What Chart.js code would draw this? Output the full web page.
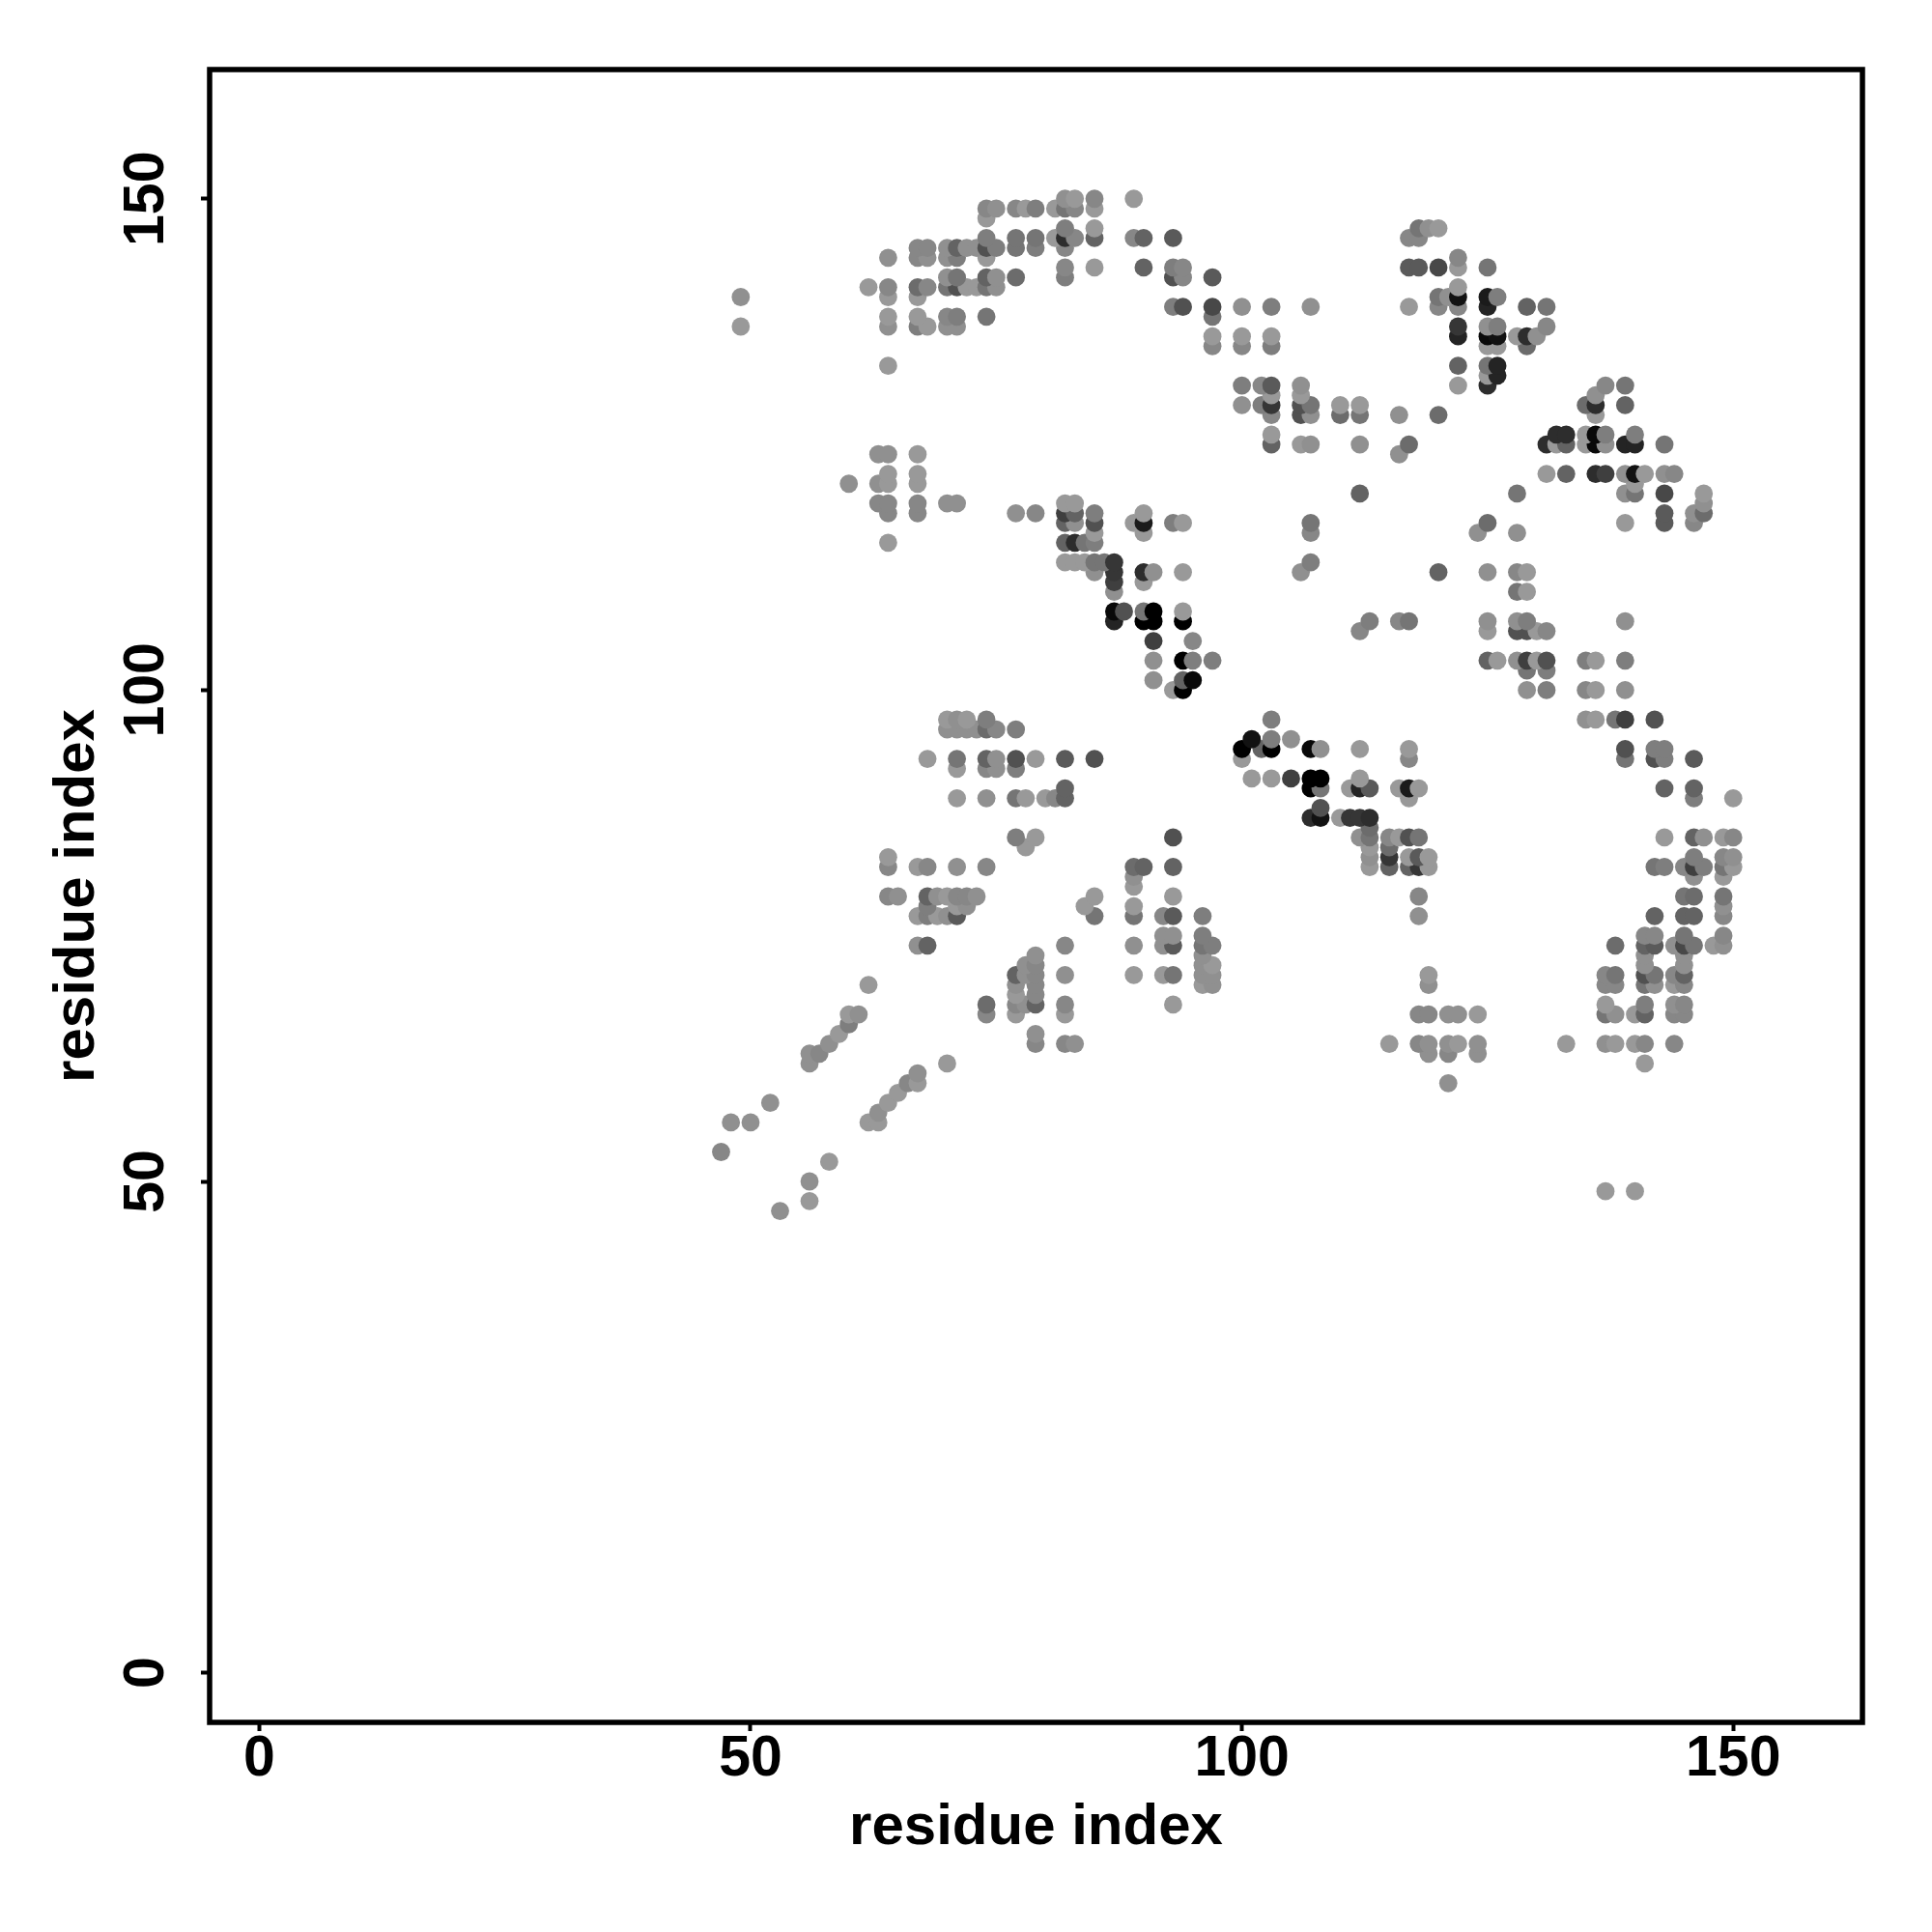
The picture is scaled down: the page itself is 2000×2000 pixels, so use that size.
<!DOCTYPE html>
<html lang="en">

<head>
    <meta charset="UTF-8">
    <title>residue contacts</title>
    <style>
        html, body {
            margin: 0;
            background: #fff;
        }

        canvas {
            display: block;
        }
    </style>
</head>

<body>
    <canvas id="contactMap" width="2000" height="2000"></canvas>
    <script src="https://cdn.jsdelivr.net/npm/chart.js@4/dist/chart.umd.min.js"></script>
    <script>
        // one entry per row of the map: residue on y, residues on x, score of each contact
        const residueY = [47, 48, 49, 50, 52, 53, 56, 57, 58, 59, 60, 61, 62, 63, 64, 65, 66, 67, 68, 69, 70, 71, 72, 73, 74, 75, 77, 78, 79, 80, 81, 82, 83, 84, 85, 86, 87, 88, 89, 90, 91, 92, 93, 94, 95, 96, 97, 100, 101, 102, 103, 105, 106, 107, 108, 110, 111, 112, 113, 115, 116, 117, 118, 119, 120, 121, 122, 124, 125, 126, 128, 129, 130, 131, 132, 133, 135, 136, 137, 138, 139, 140, 141, 142, 143, 144, 145, 146, 147, 148, 149, 150];

        const residueX = [
            [53], [56], [137, 140], [56], [58], [47],
            [48, 50, 62, 63], [63], [52, 64], [65], [66, 67, 121], [67],
            [56, 70, 141],
            [56, 57, 119, 121, 124],
            [58, 79, 82, 83, 115, 118, 119, 121, 122, 124, 133, 137, 138, 140, 141, 144],
            [59, 79], [60],
            [60, 61, 74, 77, 82, 118, 119, 121, 122, 124, 137, 138, 140, 141, 144, 145],
            [74, 77, 78, 79, 82, 93, 137, 141, 144, 145],
            [77, 79],
            [62, 77, 79, 96, 97, 119, 137, 138, 141, 142, 144, 145],
            [77, 78, 79, 82, 89, 92, 93, 96, 97, 119, 137, 138, 141, 142, 144, 145],
            [78, 79, 96, 97, 141, 145],
            [79, 96, 141, 145],
            [67, 68, 82, 89, 92, 93, 96, 97, 138, 141, 142, 144, 145, 146, 148, 149],
            [92, 93, 96, 141, 142, 145, 149],
            [67, 68, 69, 70, 71, 85, 89, 92, 93, 96, 118, 142, 145, 146, 149],
            [68, 71, 72, 84, 89, 149],
            [64, 65, 68, 69, 70, 71, 72, 73, 85, 93, 118, 145, 146, 149],
            [89],
            [89, 146, 149],
            [64, 67, 68, 71, 74, 89, 90, 93, 113, 115, 117, 118, 119, 142, 143, 145, 146, 147, 149, 150],
            [64, 113, 115, 117, 118, 119, 146, 149, 150],
            [78, 113, 115],
            [77, 79, 93, 112, 113, 115, 116, 117, 118, 143, 146, 147, 149, 150],
            [113],
            [107, 108, 110, 111, 112, 113],
            [108],
            [71, 74, 77, 78, 80, 81, 82, 117, 146, 150],
            [82, 107, 108, 111, 112, 113, 116, 117, 118, 143, 146],
            [101, 103, 105, 107, 108, 112],
            [71, 74, 75, 77],
            [68, 71, 74, 75, 77, 79, 82, 85, 100, 117, 139, 142, 143, 146],
            [100, 102, 103, 107, 108, 112, 117, 139, 142, 143],
            [101, 103, 105],
            [70, 71, 72, 73, 74, 75, 77],
            [70, 71, 72, 74, 103, 135, 136, 138, 139, 142],
            [93, 94, 129, 131, 135, 136, 139],
            [91, 94, 95],
            [129, 131],
            [91, 94, 95, 97, 125, 126, 128, 129, 130, 131, 135, 136, 139],
            [91, 95],
            [112, 125, 128, 129, 130, 131],
            [87, 90, 91, 94, 113, 116, 117, 125, 128, 129, 139],
            [87, 88, 90, 91, 94],
            [87, 128, 129],
            [87, 90],
            [85, 87, 90, 91, 94, 106, 120, 125, 128, 129],
            [82, 83, 84, 85, 86, 87, 107],
            [64, 82, 83, 84, 85],
            [85, 90, 107, 124, 128],
            [82, 83, 85, 89, 90, 93, 94, 107, 125, 139, 143, 146],
            [64, 67, 77, 79, 82, 83, 85, 90, 143, 146, 147],
            [63, 64, 67, 70, 71, 82, 83, 147],
            [112, 128, 139, 140, 143, 147],
            [60, 63, 64, 67, 140],
            [64, 67, 131, 133, 136, 137, 139, 140, 141, 143, 144],
            [63, 64, 67, 116],
            [103, 106, 107, 112, 117, 131, 132, 133, 135, 136, 137, 139, 140, 143],
            [103, 132, 133, 135, 136, 137, 140],
            [103, 106, 107, 110, 112, 116, 120, 136],
            [100, 102, 103, 106, 107, 110, 112, 135, 136, 139],
            [103, 106, 136],
            [100, 102, 103, 106, 122, 125, 137, 139],
            [125, 126],
            [64, 122, 125, 126],
            [97, 100, 103, 125, 126, 129],
            [97, 100, 103, 122, 125, 126, 128, 129, 130],
            [49, 64, 67, 68, 70, 71, 122, 125, 126, 131],
            [64, 67, 70, 71, 74, 97],
            [93, 94, 97, 100, 103, 107, 117, 120, 122, 125, 129, 131],
            [49, 64, 67, 120, 121, 122, 125, 126],
            [62, 64, 67, 68, 70, 71, 72, 73, 74, 75, 122],
            [70, 71, 74, 75, 77, 82, 93, 94, 97],
            [82, 85, 90, 93, 94, 117, 118, 120, 122, 125],
            [64, 67, 68, 70, 71, 74, 122],
            [67, 68, 70, 71, 72, 73, 74, 75, 77, 79, 82],
            [74, 77, 79, 81, 82, 83, 85, 89, 90, 93, 117, 118],
            [82, 85, 118, 119, 120],
            [74],
            [74, 75, 77, 78, 79, 81, 82, 83, 85],
            [82, 83, 85, 89]
        ];

        const contactScore = [
            [1], [0], [0, 0], [1], [0], [2],
            [1, 1, 0, 0], [1], [1, 0], [0], [2, 0, 1], [1],
            [1, 0, 0],
            [1, 2, 1, 2, 1],
            [1, 2, 2, 1, 0, 2, 1, 1, 0, 1, 0, 1, 0, 0, 2, 2],
            [0, 1], [3],
            [0, 1, 2, 0, 0, 2, 2, 1, 1, 0, 4, 1, 0, 6, 2, 2],
            [5, 2, 1, 6, 2, 0, 0, 3, 1, 2],
            [0, 2],
            [0, 1, 2, 0, 1, 1, 2, 2, 4, 1, 0, 2],
            [6, 1, 2, 1, 0, 0, 4, 1, 1, 0, 2, 4, 8, 4, 2, 6],
            [1, 2, 1, 0, 1, 1],
            [1, 1, 1, 1],
            [1, 6, 2, 1, 1, 7, 4, 3, 5, 6, 7, 1, 9, 4, 0, 1],
            [1, 1, 3, 2, 2, 4, 2],
            [0, 3, 0, 1, 7, 4, 4, 2, 7, 3, 1, 6, 6, 6, 2],
            [3, 0, 1, 0, 0, 1],
            [2, 1, 6, 1, 0, 2, 2, 1, 0, 0, 2, 4, 5, 4],
            [0],
            [1, 1, 0],
            [2, 0, 2, 1, 2, 5, 6, 6, 0, 6, 6, 11, 0, 4, 3, 2, 10, 3, 4, 0],
            [0, 1, 11, 0, 7, 0, 3, 2, 1],
            [0, 0, 5],
            [3, 0, 8, 1, 4, 2, 0, 8, 4, 0, 6, 1, 0, 2],
            [5],
            [12, 15, 0, 11, 11, 12],
            [8],
            [0, 1, 4, 0, 0, 2, 6, 0, 3, 0],
            [6, 17, 4, 0, 13, 7, 0, 14, 0, 6, 6],
            [0, 0, 10, 17, 17, 0],
            [0, 2, 1, 3],
            [0, 4, 6, 1, 8, 0, 7, 8, 0, 2, 4, 8, 3, 7],
            [17, 6, 17, 16, 1, 0, 0, 8, 3, 3],
            [15, 3, 1],
            [1, 1, 1, 1, 5, 2, 3],
            [0, 1, 0, 3, 3, 1, 0, 4, 10, 8],
            [0, 17, 1, 3, 2, 0, 1],
            [1, 6, 16],
            [4, 3],
            [1, 17, 3, 3, 6, 0, 1, 10, 0, 8, 3, 0, 3],
            [10, 2],
            [2, 0, 8, 8, 0, 2],
            [13, 17, 17, 17, 3, 2, 4, 1, 1, 3, 1],
            [16, 8, 4, 17, 0],
            [1, 4, 0],
            [10, 0],
            [1, 11, 12, 1, 0, 1, 6, 1, 2, 0],
            [0, 0, 0, 4, 4, 11, 3],
            [0, 6, 12, 4, 3],
            [0, 0, 2, 1, 1],
            [6, 1, 8, 0, 14, 3, 0, 4, 5, 0, 7, 2],
            [2, 2, 1, 2, 10, 6, 3, 0, 7, 1, 5],
            [2, 2, 2, 1, 1, 0, 0, 1],
            [6, 4, 1, 4, 9, 0],
            [1, 1, 0, 0, 0],
            [0, 0, 0, 6, 12, 10, 1, 15, 0, 1, 2],
            [1, 1, 0, 1],
            [6, 0, 1, 1, 5, 12, 0, 6, 0, 16, 1, 13, 13, 4],
            [0, 12, 12, 0, 16, 3, 3],
            [2, 8, 1, 5, 4, 1, 5, 0],
            [1, 3, 11, 8, 4, 0, 0, 5, 12, 6],
            [0, 0, 1],
            [3, 2, 7, 1, 0, 12, 2, 4],
            [0, 13],
            [0, 6, 4, 13],
            [2, 2, 3, 0, 0, 5],
            [0, 0, 0, 13, 16, 15, 0, 12, 1],
            [0, 1, 3, 0, 1, 1, 11, 1, 3, 2],
            [0, 0, 2, 3, 4, 4],
            [3, 8, 9, 1, 3, 1, 0, 2, 2, 13, 6, 4],
            [1, 0, 0, 4, 1, 15, 14, 3],
            [0, 2, 5, 2, 4, 8, 0, 0, 4, 1, 0],
            [1, 4, 6, 1, 5, 3, 8, 2, 7],
            [2, 0, 6, 3, 2, 7, 7, 9, 0, 4],
            [1, 2, 1, 1, 3, 0, 2],
            [2, 2, 1, 6, 1, 1, 8, 3, 4, 3, 2],
            [3, 4, 4, 0, 12, 2, 6, 2, 6, 7, 2, 2],
            [3, 0, 4, 1, 0],
            [0],
            [2, 1, 2, 0, 3, 0, 4, 2, 0],
            [1, 0, 2, 0]
        ];

        const tickValues = [0, 50, 100, 150];
        const axisLabel = "residue index";

        const contacts = [];
        const contactColors = [];
        residueY.forEach((y, i) => {
            residueX[i].forEach((x, j) => {
                const level = 153 - 9 * contactScore[i][j];
                contacts.push({ x: x, y: y });
                contactColors.push("rgb(" + level + "," + level + "," + level + ")");
            });
        });

        // the box around the plot
        const frame = {
            id: "frame",
            afterDatasetsDraw(chart) {
                const a = chart.chartArea;
                const ctx = chart.ctx;
                ctx.save();
                ctx.strokeStyle = "#000";
                ctx.lineWidth = 5.5;
                ctx.strokeRect(a.left, a.top, a.right - a.left, a.bottom - a.top);
                ctx.restore();
            }
        };

        function axisOptions(extra, fit) {
            return Object.assign({
                min: -5.05,
                max: 163.15,
                afterBuildTicks(scale) {
                    scale.ticks = tickValues.map(v => ({ value: v }));
                },
                afterFit: fit,
                border: { display: false },
                grid: {
                    drawOnChartArea: false,
                    drawTicks: true,
                    tickLength: 9,
                    tickWidth: 4,
                    tickColor: "#000"
                }
            }, extra);
        }

        const tickFont = { family: "'Liberation Sans'", weight: "bold", size: 59 };
        const titleFont = { family: "'Liberation Sans'", weight: "bold", size: 60 };

        new Chart(document.getElementById("contactMap"), {
            type: "scatter",
            data: {
                datasets: [{
                    data: contacts,
                    pointBackgroundColor: contactColors,
                    pointBorderWidth: 0,
                    pointRadius: 9.4
                }]
            },
            plugins: [frame],
            options: {
                responsive: false,
                animation: false,
                layout: { padding: { top: 72, right: 72, left: 0, bottom: 0 } },
                plugins: {
                    legend: { display: false },
                    tooltip: { enabled: false }
                },
                scales: {
                    x: axisOptions({
                        ticks: {
                            color: "#000",
                            font: tickFont,
                            padding: -6,
                            maxRotation: 0,
                            autoSkip: false
                        },
                        title: {
                            display: true,
                            text: axisLabel,
                            color: "#000",
                            font: titleFont,
                            padding: { top: 0, bottom: 72 }
                        }
                    }, s => { s.height = 217; }),
                    y: axisOptions({
                        ticks: {
                            color: "#000",
                            font: tickFont,
                            padding: 6,
                            minRotation: 90,
                            maxRotation: 90,
                            crossAlign: "center",
                            autoSkip: false
                        },
                        title: {
                            display: true,
                            text: axisLabel,
                            color: "#000",
                            font: titleFont,
                            padding: { top: 44, bottom: 0 }
                        }
                    }, s => { s.width = 217; })
                }
            }
        });
    </script>
</body>

</html>
